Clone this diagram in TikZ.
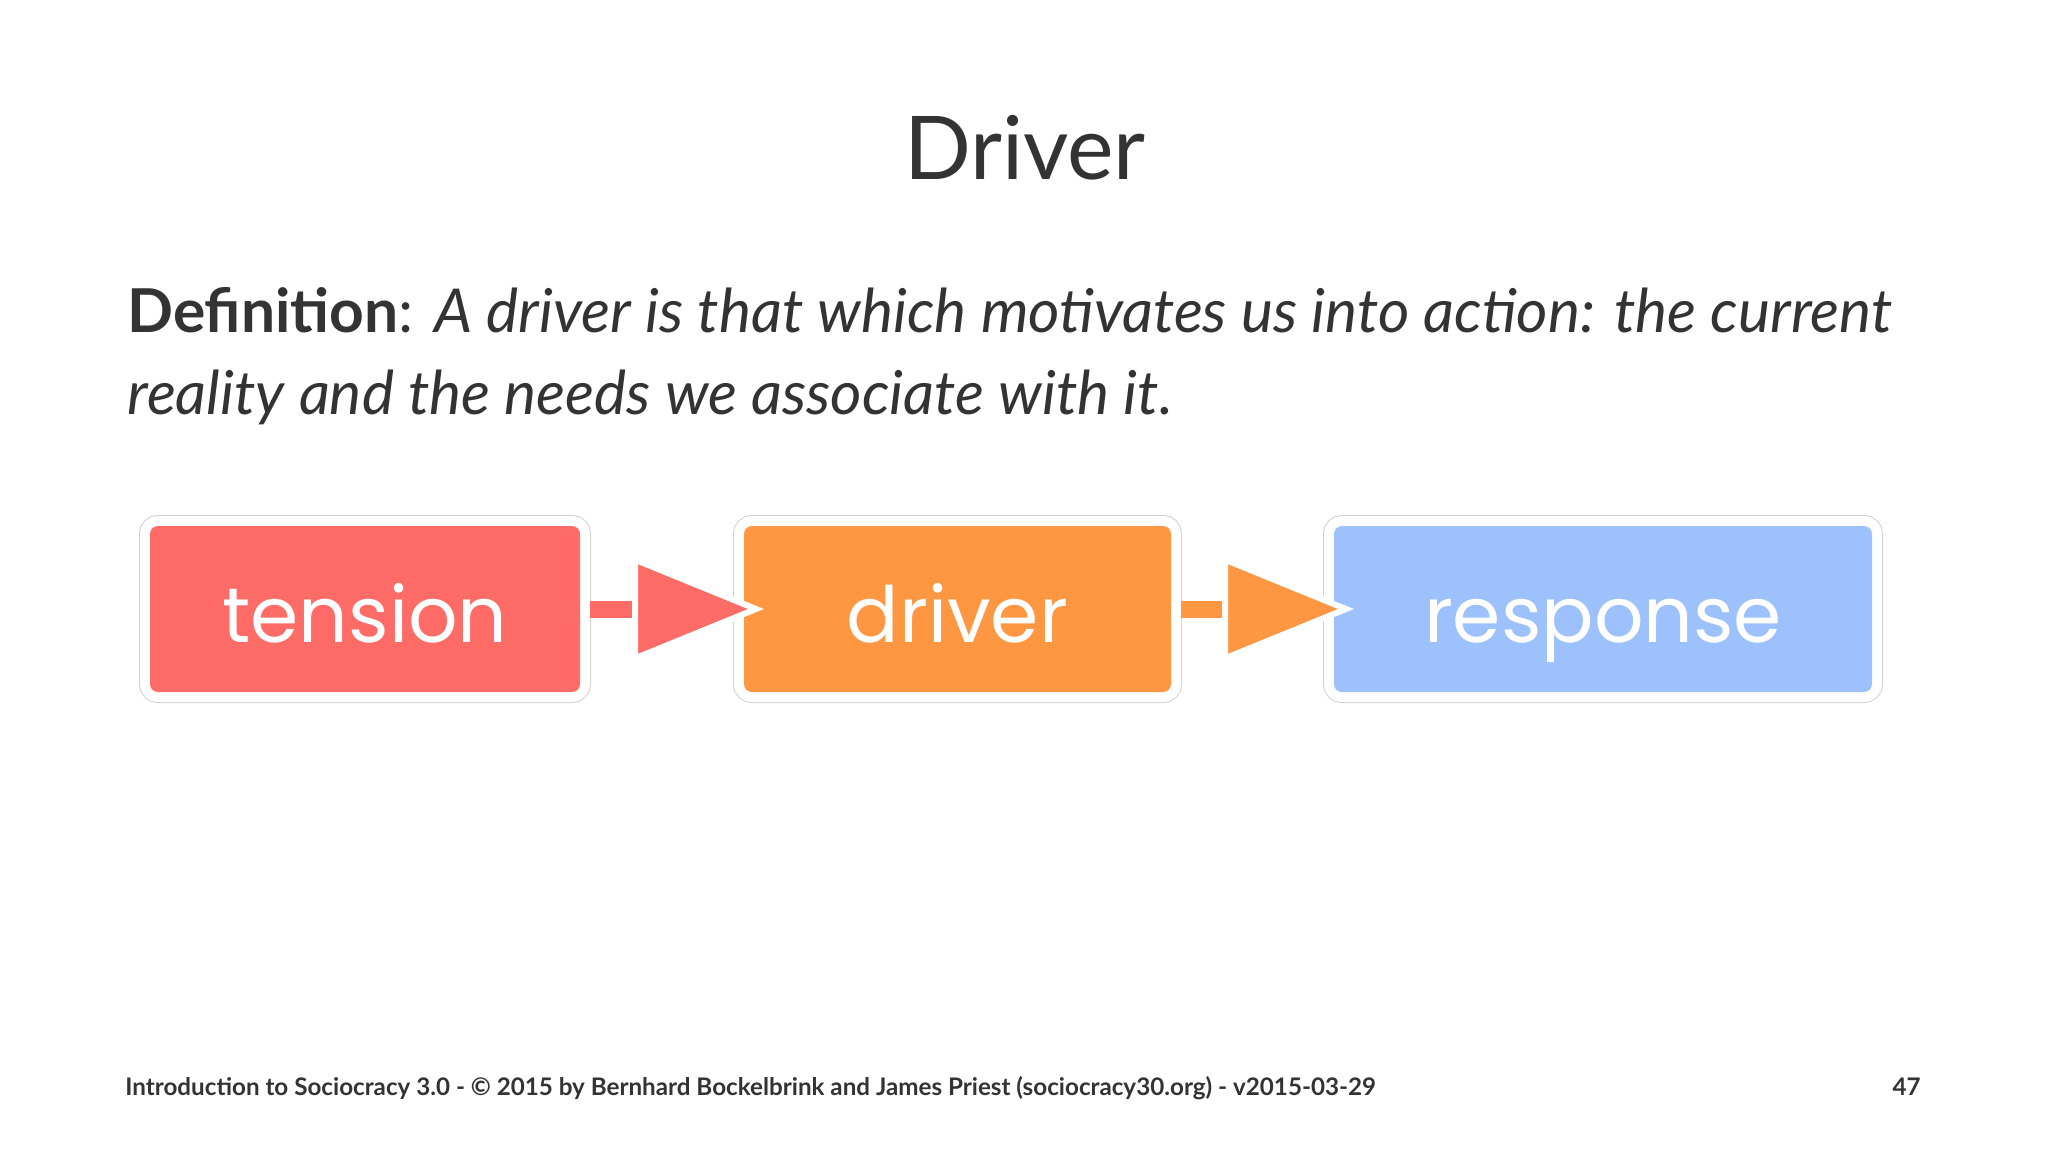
\documentclass[tikz,border=0pt]{standalone}
\usepackage{fontspec}
\setmainfont{Lato}
\newfontfamily\stagefont{Poppins}
\usetikzlibrary{positioning,arrows.meta}
\definecolor{tensred}{RGB}{255,107,102}
\definecolor{drvorange}{RGB}{255,150,65}
\definecolor{respblue}{RGB}{157,193,253}
\definecolor{slidetext}{RGB}{51,51,51}
\definecolor{framegray}{RGB}{210,210,210}

\begin{document}
\begin{tikzpicture}[x=0.5pt,y=-0.5pt,
	stage/.style={rounded corners=4pt, minimum height=83pt, inner sep=0pt, outer sep=0pt,
		text height=33pt, text depth=0pt,
		text=white, font=\stagefont\fontsize{38.8}{38.8}\selectfont,
		preaction={draw=framegray, line width=11pt},
		preaction={draw=white, line width=10pt}, fill=#1},
	link/.style={draw=#1, line width=8.5pt, shorten <=4.75pt, shorten >=-10pt,
		-{Triangle[length=66pt, width=53pt, line width=3pt, color=white, fill=#1]}}]
	\useasboundingbox (0,0) rectangle (2048,1152);
	\fill[white] (0,0) rectangle (2048,1152);

	\node[anchor=base, text=slidetext, font=\fontsize{44}{44}\selectfont] (title) at (1025,179) {Driver};
	\node[anchor=base west, text=slidetext, inner sep=0pt, font=\fontsize{30.25}{30.25}\selectfont] (def1) at (127,332)
		{\textbf{Definition}: \textit{A driver is that which motivates us into action: the current}};
	\node[anchor=base west, text=slidetext, inner sep=0pt, font=\fontsize{30.25}{30.25}\selectfont] (def2) at (127,414)
		{\textit{reality and the needs we associate with it.}};

	\node[stage=tensred, minimum width=215pt] (tension) at (365,609) {tension};
	\node[stage=drvorange, minimum width=213.5pt, right=82pt of tension] (driver) {driver};
	\node[stage=respblue, minimum width=269pt, right=81.5pt of driver] (response) {response};

	\draw[link=tensred] (tension.east) -- (driver.west);
	\draw[link=drvorange] (driver.east) -- (response.west);

	\node[anchor=base west, text=slidetext, inner sep=0pt, font=\bfseries\fontsize{12.1}{12.1}\selectfont] (footer) at (125,1095)
		{Introduction to Sociocracy 3.0 - © 2015 by Bernhard Bockelbrink and James Priest (sociocracy30.org) - v2015-03-29};
	\node[anchor=base east, text=slidetext, inner sep=0pt, font=\bfseries\fontsize{12.1}{12.1}\selectfont] (pagenum) at (1921,1095) {47};
\end{tikzpicture}
\end{document}
